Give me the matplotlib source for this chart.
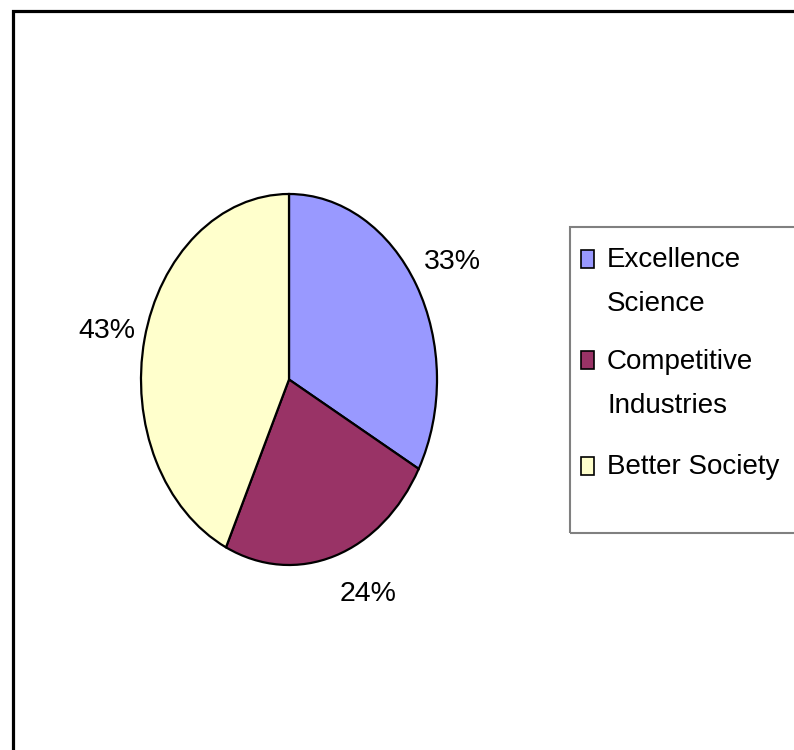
import matplotlib
matplotlib.use("Agg")
import matplotlib.pyplot as plt
from matplotlib.patches import Rectangle
import numpy as np

# ---- data ----
categories = ["Excellence\nScience", "Competitive\nIndustries", "Better Society"]
values = [33, 24, 43]
colors = ["#9999FF", "#993366", "#FFFFCC"]
pct_labels = ["33%", "24%", "43%"]

# label placement (in units of pie radius; styling)
label_pos = [(1.105, 0.597), (0.537, -1.192), (-1.233, 0.224)]

W, H = 794, 750
plt.rcParams['font.family'] = ['Liberation Sans', 'DejaVu Sans']
fig = plt.figure(figsize=(W / 100, H / 100), dpi=100)
fig.patch.set_facecolor("white")

def fx(px):
    return px / W

def fy(py):
    return 1 - py / H

# outer frame (extends past right/bottom edges)
fig.patches.append(Rectangle((fx(12.5), fy(800)), fx(900), (800 - 10.5) / H,
                             transform=fig.transFigure, fill=False,
                             edgecolor="black", linewidth=2.3, clip_on=False))

# pie axes: elliptical pie
left, right, top, bottom = 141, 437, 194, 565
ax = fig.add_axes([fx(left), fy(bottom), (right - left) / W, (bottom - top) / H])
wedges, _ = ax.pie(values, colors=colors, startangle=90, counterclock=False,
                   radius=1.0, wedgeprops=dict(edgecolor="black", linewidth=1.6))
ax.set_xlim(-1.0, 1.0)
ax.set_ylim(-1.0, 1.0)
ax.set_aspect("auto")
ax.axis("off")

for txt, (x, y) in zip(pct_labels, label_pos):
    ax.text(x, y, txt, ha="center", va="baseline", fontsize=20.5,
            color="black", clip_on=False)

# legend box
lb_left, lb_top, lb_bottom = 570, 226.5, 532.5
fig.patches.append(Rectangle((fx(lb_left), fy(lb_bottom)), fx(400), (lb_bottom - lb_top) / H,
                             transform=fig.transFigure, fill=False,
                             edgecolor="#808080", linewidth=1.5, clip_on=False))

entry_baselines = [267, 369, 474]
line_step = 44
for cat, col, base in zip(categories, colors, entry_baselines):
    fig.patches.append(Rectangle((fx(580.5), fy(base + 0.5)), 13 / W, 18 / H,
                                 transform=fig.transFigure, facecolor=col,
                                 edgecolor="black", linewidth=1.2))
    for i, line in enumerate(cat.split("\n")):
        fig.text(fx(607), fy(base + i * line_step), line, ha="left", va="baseline",
                 fontsize=20, color="black")

fig.savefig("out.png", dpi=100, facecolor="white")
